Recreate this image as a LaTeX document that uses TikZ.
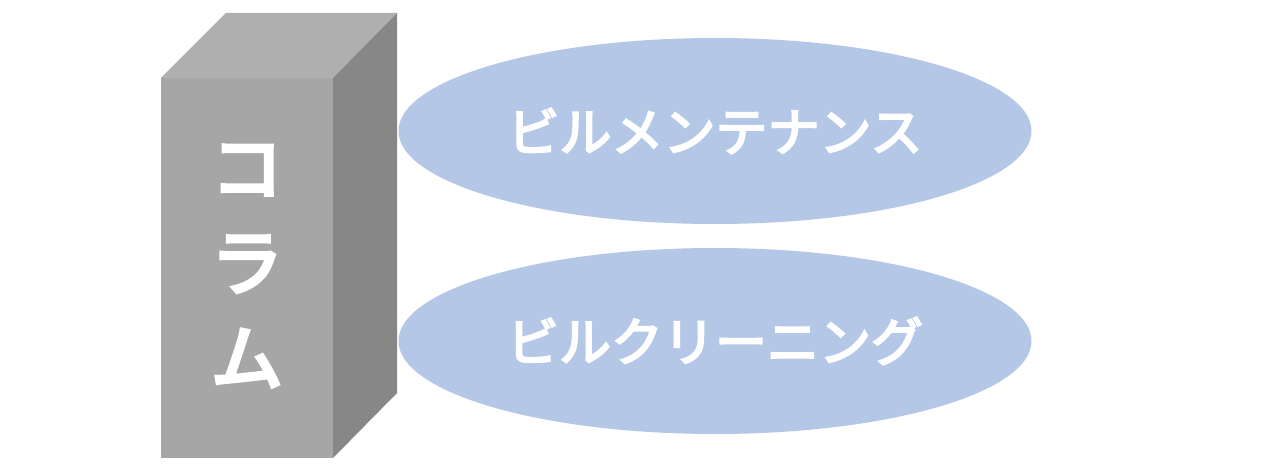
\documentclass[tikz,border=0pt]{standalone}
\usepackage{fontspec}
\newfontfamily\jp{Noto Sans CJK JP}[FakeBold=4]
\newfontfamily\jpcol{Noto Sans CJK JP}[FakeBold=5]
\usetikzlibrary{shapes.geometric}
\definecolor{frontgray}{HTML}{A6A6A6}
\definecolor{topgray}{HTML}{AFAFAF}
\definecolor{sidegray}{HTML}{878787}
\definecolor{ellblue}{HTML}{B4C7E7}
\tikzset{
  facefront/.style={fill=frontgray, draw=none},
  facetop/.style={fill=topgray, draw=none},
  faceside/.style={fill=sidegray, draw=none},
  bubble/.style={ellipse, fill=ellblue, draw=none, inner sep=0pt,
    minimum width=633pt, minimum height=186pt, text=white,
    font=\jp\fontsize{52}{60}\selectfont},
  columnlabel/.style={text=white, align=center, inner sep=0pt,
    font=\jpcol\fontsize{72}{95}\selectfont}
}
\begin{document}
\begin{tikzpicture}[x=1pt,y=-1pt]
\useasboundingbox[fill=white] (0,0) rectangle (1264,473);
% box faces
\fill[facetop] (161,78) -- (226,13) -- (397,13) -- (333,78) -- cycle;
\fill[faceside] (333,78) -- (397,13) -- (397,393) -- (333,458) -- cycle;
\node[facefront, minimum width=172pt, minimum height=380pt, inner sep=0pt] (front) at (247,268) {};
\node[columnlabel] (col) at (247,266) {コ\\ラ\\ム};
% ellipses
\node[bubble] (e1) at (715,131) {ビルメンテナンス};
\node[bubble] (e2) at (715,341) {ビルクリーニング};
\end{tikzpicture}
\end{document}
